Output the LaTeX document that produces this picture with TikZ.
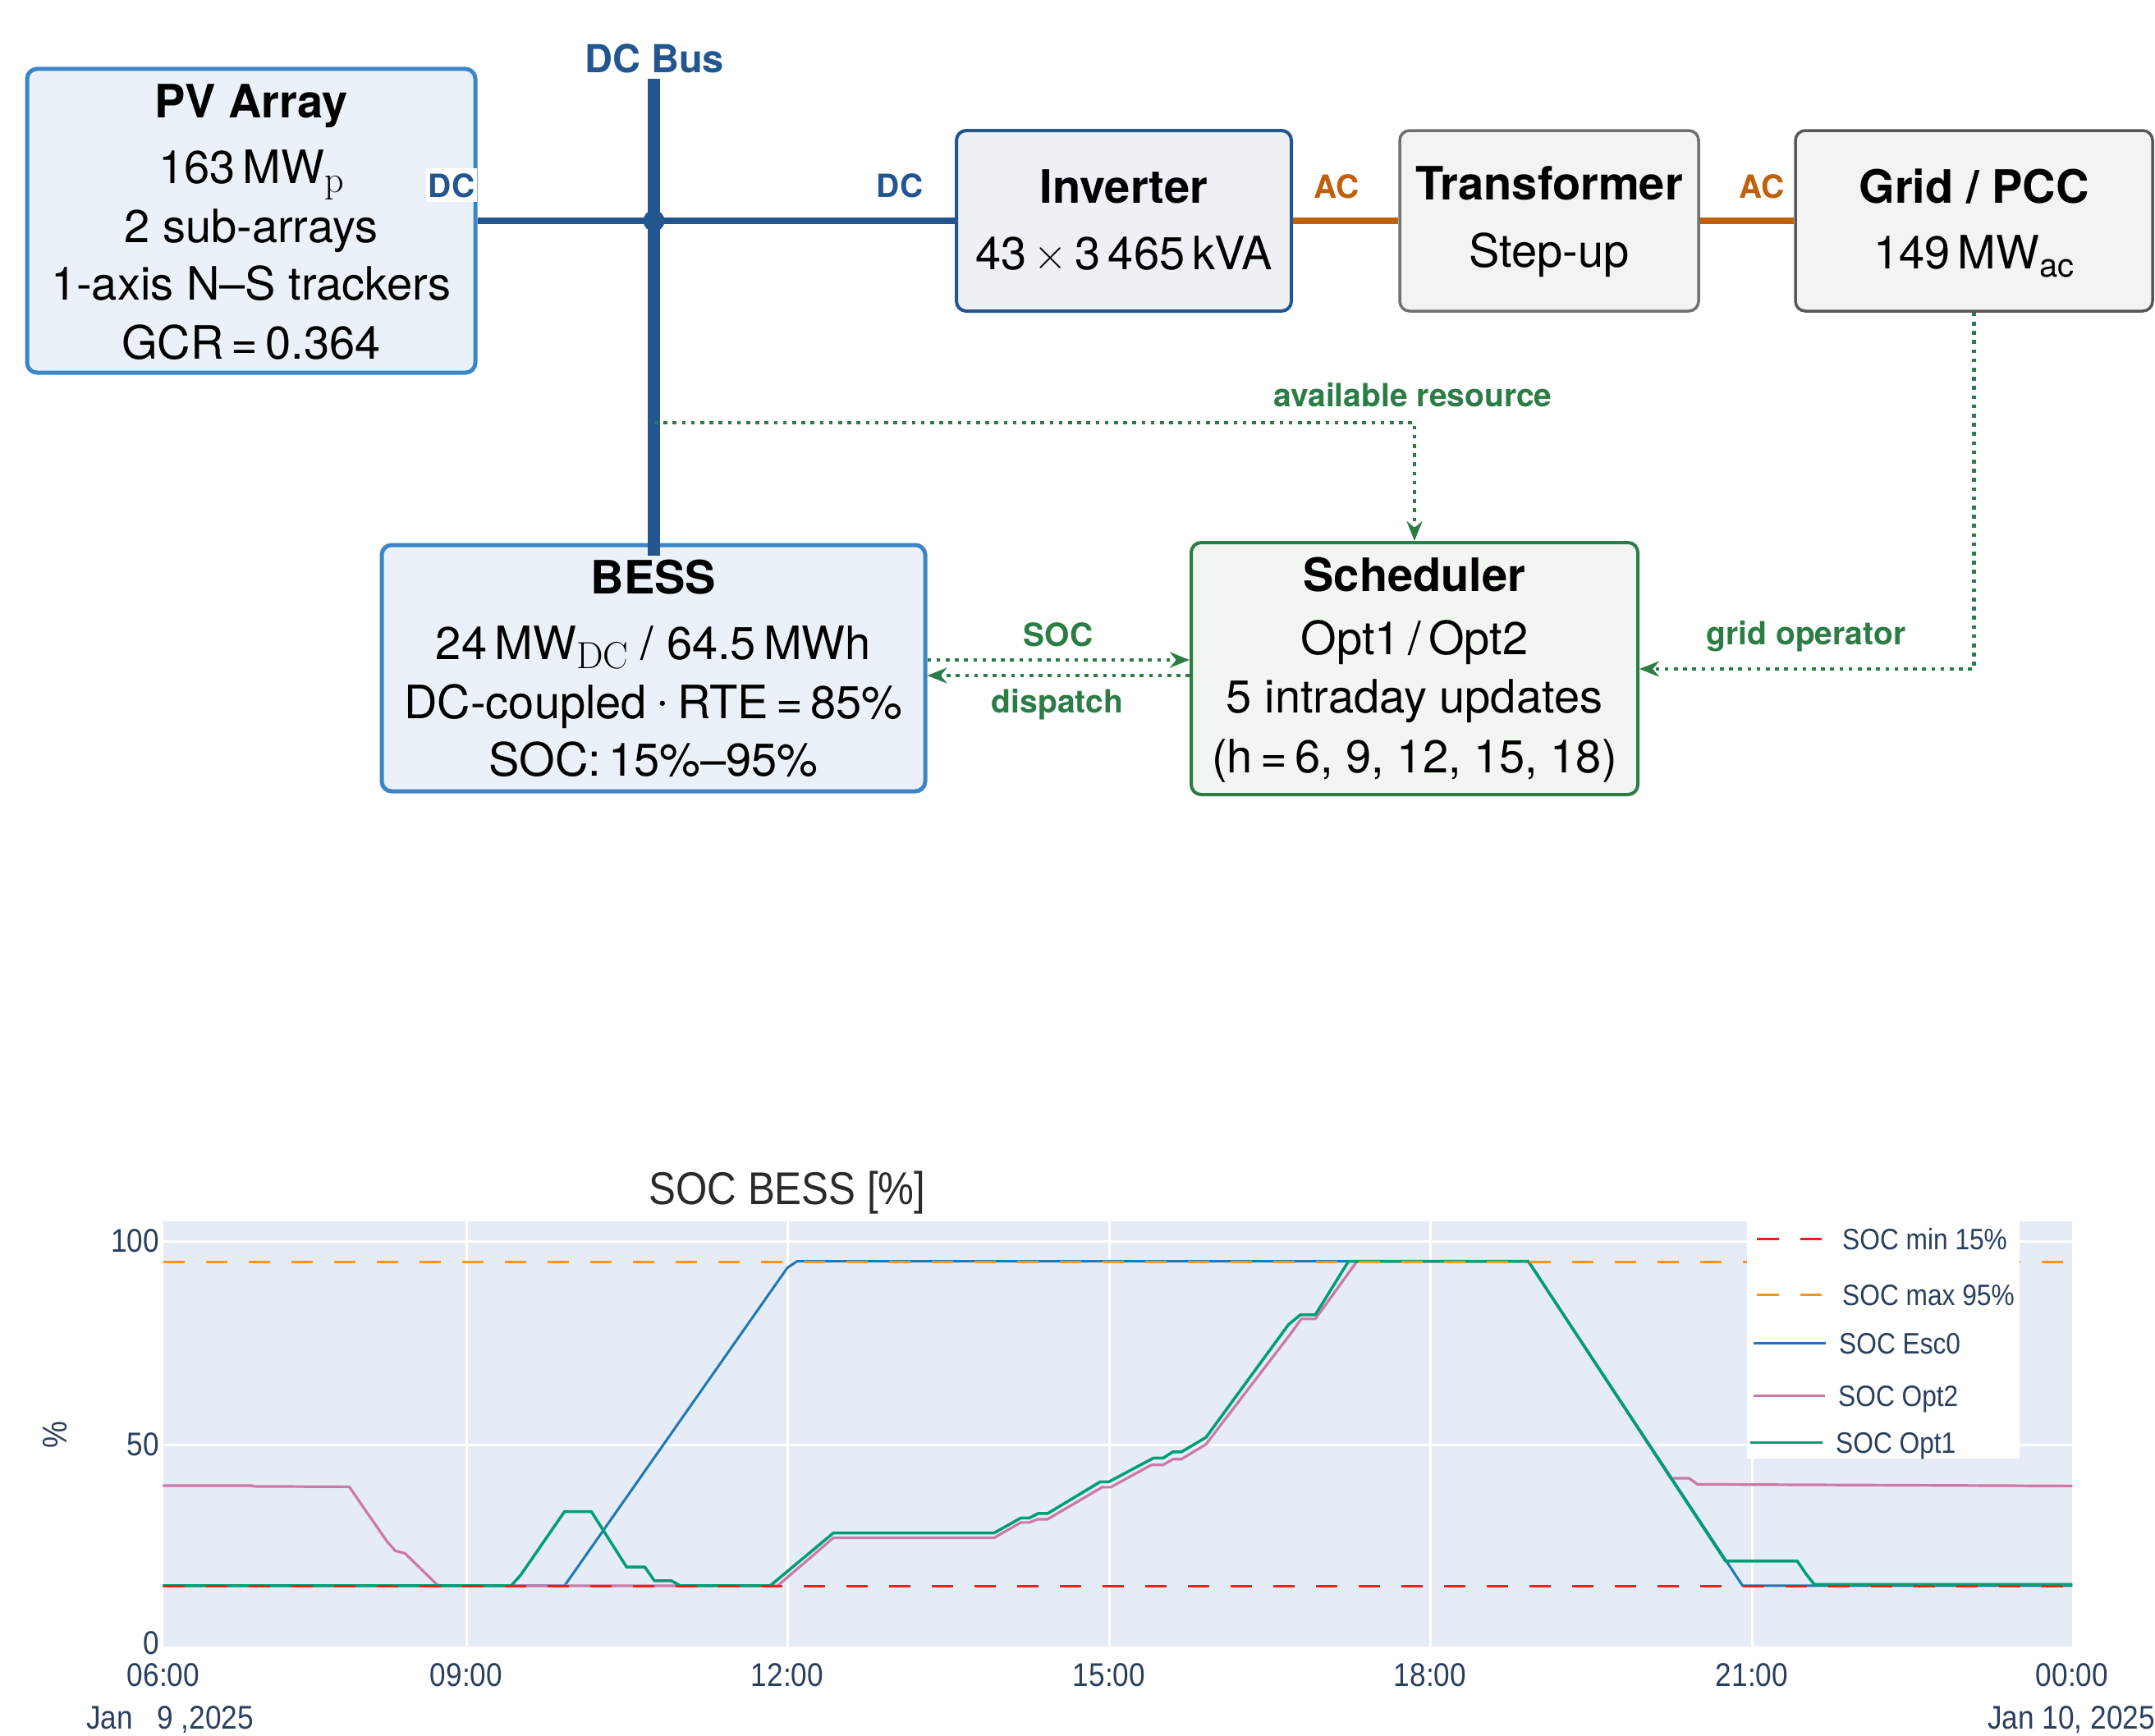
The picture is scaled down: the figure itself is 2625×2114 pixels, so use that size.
\documentclass[tikz,border=0pt]{standalone}
\usepackage{fontspec}
\setmainfont{TeX Gyre Heros}
\newfontfamily\lmfont{Latin Modern Roman}
\newfontfamily\plotfont[FakeStretch=0.88]{Liberation Sans}
\usetikzlibrary{arrows.meta}
\definecolor{pvborder}{HTML}{3A86C8}
\definecolor{pvfill}{HTML}{EAF1F9}
\definecolor{busblue}{HTML}{23568F}
\definecolor{invfill}{HTML}{EDF0F5}
\definecolor{grayfill}{HTML}{F3F3F3}
\definecolor{trborder}{HTML}{707070}
\definecolor{gridborder}{HTML}{585858}
\definecolor{acorange}{HTML}{C0600A}
\definecolor{schgreen}{HTML}{2B7D45}
\definecolor{schfill}{HTML}{F1F6F1}
\definecolor{plotbg}{HTML}{E5ECF6}
\definecolor{ticktext}{HTML}{2A3F5F}
\definecolor{titlegray}{HTML}{2A2A2A}
\definecolor{esc}{HTML}{1F77B4}
\definecolor{opttwo}{HTML}{CC79A7}
\definecolor{optone}{HTML}{009E73}
\definecolor{socmax}{HTML}{FF9416}
\definecolor{socmin}{HTML}{F01E1E}
\newcommand{\lmsub}[1]{\raisebox{-11pt}{\fontsize{46}{46}\selectfont\lmfont #1}}
\newcommand{\sfsub}[1]{\raisebox{-10pt}{\fontsize{40}{40}\selectfont #1}}
\newcommand{\bigdot}{\raisebox{15pt}{\tikz\fill (0,0) circle[radius=3.2pt];}}
\tikzset{
  boxbase/.style={draw, rounded corners=12pt, inner sep=0pt},
  pvbox/.style={boxbase, draw=pvborder, fill=pvfill, line width=5pt},
  invbox/.style={boxbase, draw=busblue, fill=invfill, line width=4pt},
  trbox/.style={boxbase, draw=trborder, fill=grayfill, line width=3.5pt},
  gridbox/.style={boxbase, draw=gridborder, fill=grayfill, line width=3.5pt},
  schbox/.style={boxbase, draw=schgreen, fill=schfill, line width=4pt},
  bodytxt/.style={anchor=base, inner sep=0pt, font={\fontsize{56}{67}\selectfont}},
  headtxt/.style={anchor=base, inner sep=0pt, font={\fontsize{56}{67}\selectfont\bfseries}},
  lbltxt/.style={anchor=base, inner sep=0pt, font={\fontsize{39}{47}\selectfont\bfseries}},
  flowline/.style={draw=schgreen, line width=4.6pt, dash pattern=on 4.6pt off 6.6pt, -{Stealth[length=24pt,width=19pt]}},
  ticktxt/.style={text=ticktext, inner sep=0pt, font={\plotfont\fontsize{40}{46}\selectfont}},
  legtxt/.style={text=ticktext, inner sep=0pt, anchor=base west, font={\plotfont\fontsize{36}{42}\selectfont}},
  trace/.style={line width=3pt, line join=round},
  refline/.style={line width=3pt, dash pattern=on 26pt off 26pt},
}
\begin{document}
\begin{tikzpicture}[x=1pt, y=-1pt]
\useasboundingbox (0,0) rectangle (2625,2114);

% ---------- boxes ----------
\node[pvbox, minimum width=546pt, minimum height=370pt] (pv) at (306,269) {};
\node[invbox, minimum width=408pt, minimum height=220pt] (inv) at (1369,269) {};
\node[trbox, minimum width=364pt, minimum height=220pt] (tr) at (1887,269) {};
\node[gridbox, minimum width=435pt, minimum height=220pt] (grid) at (2404.5,269) {};
\node[pvbox, minimum width=662pt, minimum height=300pt] (bess) at (796,814) {};
\node[schbox, minimum width=544pt, minimum height=307pt] (sch) at (1723,814.5) {};

% ---------- box texts ----------
\node[headtxt] (pvt1) at (306,143) {PV Array};
\node[bodytxt] (pvt2) at (306,223) {163\,MW\lmsub{p}};
\node[bodytxt] (pvt3) at (306,295) {2 sub-arrays};
\node[bodytxt] (pvt4) at (306,365) {1-axis N–S trackers};
\node[bodytxt] (pvt5) at (306,437) {GCR\,=\,0.364};

\node[headtxt] (invt1) at (1369,247) {Inverter};
\node[bodytxt] (invt2) at (1369,328) {43\,{\lmfont ×}\,3\,465\,kVA};

\node[headtxt] (trt1) at (1887,243) {Transformer};
\node[bodytxt] (trt2) at (1887,325) {Step-up};

\node[headtxt] (grt1) at (2404.5,247) {Grid / PCC};
\node[bodytxt] (grt2) at (2404.5,327) {149\,MW\sfsub{ac}};

\node[headtxt] (bst1) at (796,723) {BESS};
\node[bodytxt] (bst2) at (796,803) {24\,MW\lmsub{DC} / 64.5\,MWh};
\node[bodytxt] (bst3) at (796,875) {DC-coupled \bigdot{} RTE\,=\,85\%};
\node[bodytxt] (bst4) at (796,945) {SOC:\,15\%–95\%};

\node[headtxt] (sct1) at (1723,720) {Scheduler};
\node[bodytxt] (sct2) at (1723,797) {Opt1\,/\,Opt2};
\node[bodytxt] (sct3) at (1723,868) {5 intraday updates};
\node[bodytxt] (sct4) at (1723,941) {(h\,=\,6, 9, 12, 15, 18)};

% ---------- DC bus and power lines ----------
\coordinate (bustop) at (796.5,96);
\coordinate (busbot) at (796.5,677);
\coordinate (jn) at (796.5,269);
\draw[busblue, line width=7.5pt] (pv.east) -- (inv.west);
\draw[busblue, line width=15pt] (bustop) -- (busbot);
\fill[busblue] (jn) circle[radius=13pt];
\draw[acorange, line width=7.5pt] (inv.east) -- (tr.west);
\draw[acorange, line width=7.5pt] (tr.east) -- (grid.west);

\node[anchor=base, inner sep=0pt, text=busblue, font={\fontsize{47}{56}\selectfont\bfseries}] (busl) at (797,89) {DC Bus};
\node[lbltxt, text=busblue, fill=white, inner xsep=3pt, inner ysep=6pt] (dcl1) at (550,240) {DC};
\node[lbltxt, text=busblue] (dcl2) at (1096,240) {DC};
\node[lbltxt, text=acorange] (acl1) at (1628,241) {AC};
\node[lbltxt, text=acorange] (acl2) at (2146,241) {AC};

% ---------- information flows ----------
\coordinate (ar0) at (797,515);
\coordinate (ar1) at (1723,515);
\draw[flowline] (ar0) -- (ar1) -- (sch.north);
\coordinate (go1) at (2404.5,815);
\draw[flowline] (grid.south) -- (go1) -- (sch.east |- go1);
\coordinate (socy) at (0,804);
\coordinate (dspy) at (0,823);
\draw[flowline] (bess.east |- socy) -- (sch.west |- socy);
\draw[flowline] (sch.west |- dspy) -- (bess.east |- dspy);

\node[lbltxt, text=schgreen] (arl) at (1721,495) {available resource};
\node[lbltxt, text=schgreen] (socl) at (1289,787) {SOC};
\node[lbltxt, text=schgreen] (dspl) at (1288,868) {dispatch};
\node[lbltxt, text=schgreen] (gol) at (2200,785) {grid operator};

% ---------- chart ----------
\fill[plotbg] (199,1488) rectangle (2524,2006);
\foreach \gx in {568,959,1351,1742,2134} \draw[white, line width=3pt] (\gx,1488) -- (\gx,2006);
\foreach \gy in {1512,1760} \draw[white, line width=3pt] (199,\gy) -- (2524,\gy);

\begin{scope}[shift={(-606.4pt,-2006pt)}, x=130.45pt, y=4.94pt]
\draw[trace, esc] (6.17,15) -- (9.92,15) -- (12.0,93.4) -- (12.09,95) -- (18.92,95) -- (20.92,15) -- (24,15);
\draw[trace, opttwo, line width=3.2pt] (6.17,39.7) -- (7.0,39.7) -- (7.02,39.5) -- (7.91,39.4) -- (8.26,26) -- (8.34,23.6) -- (8.43,23) -- (8.74,15) -- (11.91,15) -- (12.43,26.8) -- (13.93,26.8) -- (14.18,30.6) -- (14.26,30.6) -- (14.34,31.4) -- (14.43,31.4) -- (14.94,39.3) -- (15.02,39.3) -- (15.40,44.8) -- (15.51,44.8) -- (15.6,46.2) -- (15.68,46.2) -- (15.91,49.9) -- (16.71,77.5) -- (16.80,80.8) -- (16.93,80.8) -- (17.32,95) -- (18.92,95) -- (20.25,41.5) -- (20.42,41.5) -- (20.5,40) -- (24,39.6);
\draw[trace, optone, line width=3.5pt] (6.17,15) -- (9.42,15) -- (9.51,17.6) -- (9.92,33.3) -- (10.17,33.3) -- (10.50,19.6) -- (10.67,19.6) -- (10.76,16.2) -- (10.92,16.2) -- (11.0,15) -- (11.84,15) -- (12.43,28) -- (13.93,28) -- (14.18,31.7) -- (14.26,31.7) -- (14.34,32.8) -- (14.43,32.8) -- (14.92,40.6) -- (15.0,40.6) -- (15.42,46.5) -- (15.51,46.5) -- (15.6,48) -- (15.68,48) -- (15.91,51.6) -- (16.68,79.4) -- (16.79,81.8) -- (16.93,81.8) -- (17.24,95) -- (18.92,95) -- (20.76,21.1) -- (21.43,21.1) -- (21.51,18) -- (21.59,15.3) -- (24,15.3);
\end{scope}

\draw[refline, socmax] (199,1537) -- (2524,1537);
\draw[refline, socmin] (199,1932) -- (2524,1932);

% axis labels
\node[ticktxt, anchor=east] (yt100) at (194,1512) {100};
\node[ticktxt, anchor=east] (yt50) at (194,1760) {50};
\node[ticktxt, anchor=east] (yt0) at (194,2002) {0};
\node[ticktxt, anchor=base] (xt06) at (199,2054) {06:00};
\node[ticktxt, anchor=base] (xt09) at (568,2054) {09:00};
\node[ticktxt, anchor=base] (xt12) at (959,2054) {12:00};
\node[ticktxt, anchor=base] (xt15) at (1351,2054) {15:00};
\node[ticktxt, anchor=base] (xt18) at (1742,2054) {18:00};
\node[ticktxt, anchor=base] (xt21) at (2134,2054) {21:00};
\node[ticktxt, anchor=base] (xt24) at (2524,2054) {00:00};
\node[ticktxt, anchor=base] (dt1) at (207,2106) {Jan\ \ \ 9\ ,2025};
\node[ticktxt, anchor=base] (dt2) at (2523,2106) {Jan 10, 2025};
\node[ticktxt, rotate=90, font={\plotfont\fontsize{42}{48}\selectfont}] (yax) at (67,1748) {\%};
\node[anchor=base, inner sep=0pt, text=titlegray, font={\plotfont\fontsize{56}{64}\selectfont}] (ttl) at (959,1467) {SOC BESS [\%]};

% legend
\fill[white] (2128,1488) rectangle (2460,1777);
\draw[socmin, line width=3pt] (2140,1509) -- (2167,1509) (2193,1509) -- (2219,1509);
\draw[socmax, line width=3pt] (2140,1577) -- (2167,1577) (2193,1577) -- (2219,1577);
\draw[esc, line width=3pt] (2136,1636) -- (2224,1636);
\draw[opttwo, line width=3pt] (2136,1700) -- (2223,1700);
\draw[optone, line width=3pt] (2132,1757) -- (2220,1757);
\node[legtxt] (lg1) at (2244,1522) {SOC min 15\%};
\node[legtxt] (lg2) at (2244,1590) {SOC max 95\%};
\node[legtxt] (lg3) at (2240,1649) {SOC Esc0};
\node[legtxt] (lg4) at (2239,1713) {SOC Opt2};
\node[legtxt] (lg5) at (2236,1770) {SOC Opt1};
\end{tikzpicture}
\end{document}
